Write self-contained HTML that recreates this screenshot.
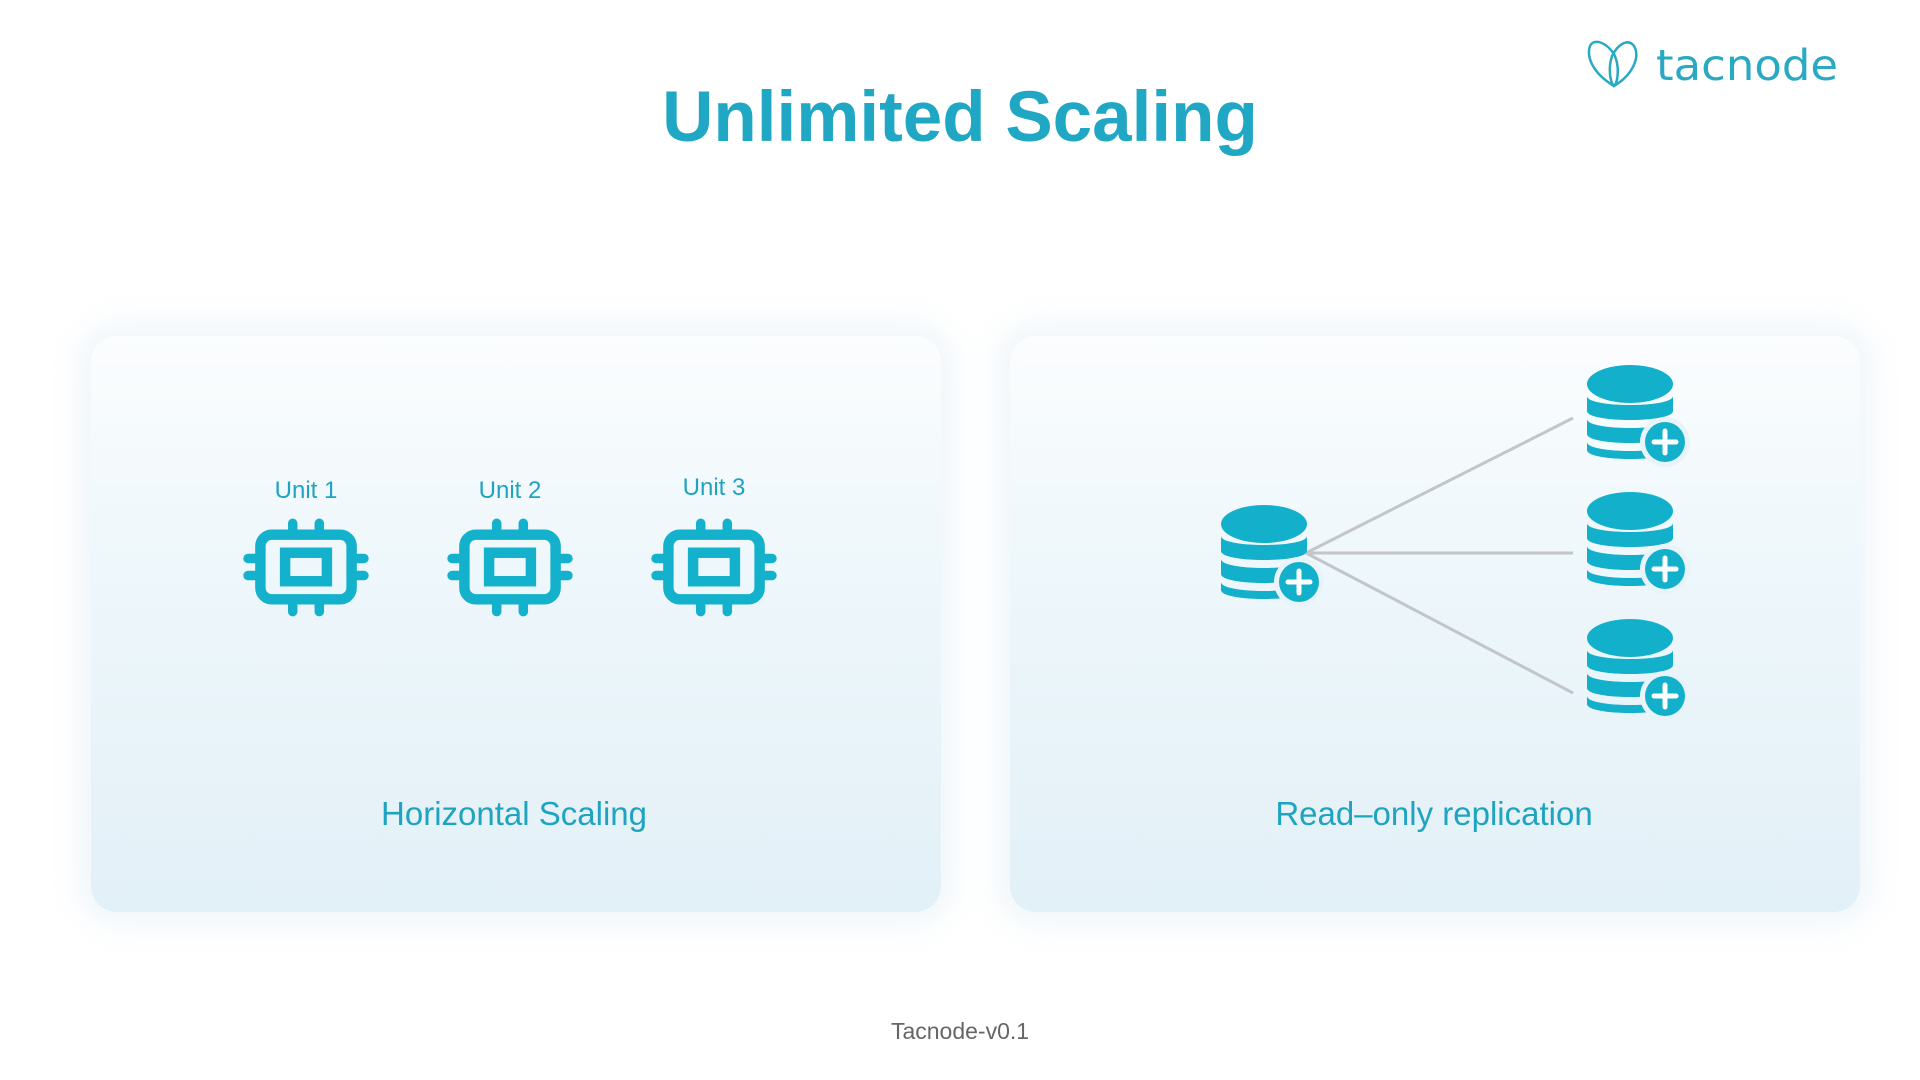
<!DOCTYPE html>
<html><head><meta charset="utf-8"><style>
html,body{margin:0;padding:0;background:#fff;}
body{width:1920px;height:1080px;position:relative;overflow:hidden;font-family:"Liberation Sans",sans-serif;}
.title{position:absolute;left:0;width:1920px;top:77px;text-align:center;font-size:71px;font-weight:bold;color:#20a7c4;}
.panel{position:absolute;top:336px;height:576px;border-radius:26px;background:linear-gradient(#fbfdfe 0%,#eef7fb 40%,#e2f0f7 100%);box-shadow:0 0 30px 12px rgba(220,236,244,0.45);}
.lbl{position:absolute;font-size:33px;color:#1ea4c0;text-align:center;}
.unit{position:absolute;font-size:24px;color:#1ea4c0;text-align:center;width:120px;}
.foot{position:absolute;left:0;width:1920px;top:1018px;text-align:center;font-size:23px;color:#666;}
</style></head><body>
<div class="title">Unlimited Scaling</div>

<svg style="position:absolute;left:1584px;top:38px" width="260" height="52" viewBox="0 0 260 52">
<g fill="none" stroke="#2aa9c3" stroke-width="2.5">
<path d="M30 48 C10 36 2 20 6 8 C10 0 22 4 30 16 C36 28 34 44 30 48 Z"/>
<path d="M30 48 C50 36 56 18 50 8 C44 0 34 6 28 18 C24 30 26 44 30 48 Z"/>
</g>
<text x="72" y="42" font-family="DejaVu Sans, Liberation Sans, sans-serif" font-size="43" fill="#2aa9c3" textLength="182" lengthAdjust="spacingAndGlyphs">tacnode</text>
</svg>

<div class="panel" style="left:91px;width:850px"></div>
<div class="panel" style="left:1010px;width:850px"></div>

<div class="unit" style="left:246px;top:477px">Unit 1</div>
<div class="unit" style="left:450px;top:477px">Unit 2</div>
<div class="unit" style="left:654px;top:474px">Unit 3</div>

<svg width="1920" height="1080" style="position:absolute;left:0;top:0">
<defs>
<g id="chip">
 <rect x="-48" y="-34" width="96" height="68" rx="12" fill="none" stroke="#13b1cc" stroke-width="11"/>
 <rect x="-22" y="-15" width="44" height="30" fill="none" stroke="#13b1cc" stroke-width="11"/>
 <g stroke="#13b1cc" stroke-width="10" stroke-linecap="round">
  <line x1="-14" y1="-40" x2="-14" y2="-46"/><line x1="14" y1="-40" x2="14" y2="-46"/>
  <line x1="-14" y1="40" x2="-14" y2="47"/><line x1="14" y1="40" x2="14" y2="47"/>
  <line x1="-54" y1="-9" x2="-61" y2="-9"/><line x1="-54" y1="9" x2="-61" y2="9"/>
  <line x1="54" y1="-9" x2="61" y2="-9"/><line x1="54" y1="9" x2="61" y2="9"/>
 </g>
</g>
<g id="db">
 <path d="M0 78 L0 86 C0 98 86 98 86 86 L86 78 C86 90 0 90 0 78 Z" fill="#12b0cb"/>
 <path d="M0 55 L0 70 C0 82 86 82 86 70 L86 55 C86 67 0 67 0 55 Z" fill="#12b0cb"/>
 <path d="M0 32 L0 47 C0 59 86 59 86 47 L86 32 C86 44 0 44 0 32 Z" fill="#12b0cb"/>
 <ellipse cx="43" cy="20" rx="43" ry="19" fill="#12b0cb"/>
 <circle cx="78" cy="78" r="25" fill="#e8f4f9"/>
 <circle cx="78" cy="78" r="20" fill="#12b0cb"/>
 <g stroke="#fff" stroke-width="5" stroke-linecap="round"><line x1="67" y1="78" x2="89" y2="78"/><line x1="78" y1="67" x2="78" y2="89"/></g>
</g>
</defs>
<use href="#chip" transform="translate(306 567) scale(0.95)"/>
<use href="#chip" transform="translate(510 567) scale(0.95)"/>
<use href="#chip" transform="translate(714 567) scale(0.95)"/>
<g stroke="#c2c6c9" stroke-width="3">
<line x1="1306" y1="553" x2="1573" y2="418"/>
<line x1="1306" y1="553" x2="1573" y2="553"/>
<line x1="1306" y1="553" x2="1573" y2="693"/>
</g>
<use href="#db" x="1221" y="504"/>
<use href="#db" x="1587" y="364"/>
<use href="#db" x="1587" y="491"/>
<use href="#db" x="1587" y="618"/>
</svg>

<div class="lbl" style="left:264px;width:500px;top:795px">Horizontal Scaling</div>
<div class="lbl" style="left:1184px;width:500px;top:795px">Read–only replication</div>
<div class="foot">Tacnode-v0.1</div>
</body></html>
